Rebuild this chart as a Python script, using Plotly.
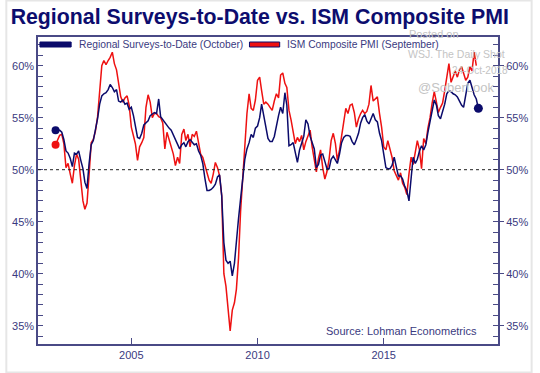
import pandas as pd
import plotly.graph_objects as go

# ---- data (monthly) ----
regional = [
    53.8, 53.7, 53.8, 53.6, 52.9, 51.8, 51.6, 51.1, 50.3, 51.6, 51.5, 51.8,  # 2002
    50.9, 50.1, 48.8, 48.2, 50.6, 52.4, 52.8, 53.7, 54.9, 56.3, 57.1, 57.3,  # 2003
    57.4, 57.7, 58.2, 57.9, 57.5, 57.7, 56.6, 56.5, 56.7, 56.3, 56.4, 55.8,  # 2004
    56.0, 55.2, 54.2, 53.1, 53.0, 53.5, 54.3, 54.5, 54.7, 55.2, 55.4, 55.5,  # 2005
    55.4, 56.8, 55.1, 54.8, 54.5, 54.2, 54.0, 53.8, 53.3, 52.9, 52.5, 52.0,  # 2006
    52.4, 52.6, 52.2, 52.7, 52.9, 52.6, 52.4, 52.5, 51.8, 51.4, 50.6, 49.2,  # 2007
    48.0, 48.0, 48.1, 48.3, 48.6, 49.3, 49.5, 47.5, 43.0, 41.3, 41.0, 41.2,  # 2008
    39.8, 41.0, 43.3, 45.3, 47.2, 49.0, 51.0, 52.0, 52.6, 53.4, 53.1, 54.0,  # 2009
    54.2, 55.0, 56.3, 55.2, 54.2, 53.0, 52.7, 52.7, 53.2, 54.3, 55.2, 56.0,  # 2010
    55.4, 57.4, 56.2, 52.3, 52.4, 52.6, 51.6, 50.7, 51.9, 52.6, 53.2, 54.8,  # 2011
    54.4, 53.2, 52.5, 52.0, 50.2, 50.5, 51.4, 51.5, 50.8, 50.1, 50.1, 51.0,  # 2012
    51.3, 50.9, 50.6, 51.5, 52.6, 53.1, 53.3, 53.3, 53.2, 52.7, 52.4, 52.9,  # 2013
    53.5, 54.5, 55.0, 55.3, 54.7, 54.4, 54.9, 55.4, 54.8, 54.6, 53.5, 52.8,  # 2014
    51.5, 50.2, 50.1, 50.1, 50.4, 51.2, 50.3, 49.4, 49.4, 49.1, 48.4, 48.0,  # 2015
    47.0, 49.6, 51.2, 50.6, 51.0, 51.8, 52.3, 51.9, 52.4, 53.6, 54.6, 55.8,  # 2016
    56.7, 56.2, 55.2, 54.9, 55.5, 56.3, 57.3, 57.6, 57.5, 57.3, 57.2, 57.0,  # 2017
    56.6, 56.2, 56.0, 57.3, 58.3, 58.6, 57.8, 57.2, 56.8, 55.9,              # 2018
]
ism = [
    52.4, 52.8, 53.3, 53.4, 52.5, 50.2, 50.6, 49.6, 48.7, 50.4, 51.5, 51.0,  # 2002
    49.0, 47.0, 46.2, 46.8, 49.5, 52.6, 52.9, 53.7, 55.1, 58.0, 60.0, 60.5,  # 2003
    60.1, 60.5, 60.8, 61.3, 60.2, 59.6, 58.3, 57.0, 56.5, 56.9, 57.1, 56.2,  # 2004
    54.1, 53.2, 52.5, 50.9, 52.2, 52.6, 53.1, 56.0, 57.2, 56.5, 55.0, 55.4,  # 2005
    55.4, 55.1, 55.0, 54.5, 52.0, 53.6, 52.9, 52.3, 51.5, 50.4, 51.2, 50.6,  # 2006
    53.4, 53.9, 52.8, 53.4, 52.2, 53.4, 53.2, 53.7, 52.5, 51.5, 51.2, 50.3,  # 2007
    49.7, 49.0, 48.7, 49.6, 50.7, 50.2, 49.4, 47.5, 40.0, 38.8, 36.5, 34.5,  # 2008
    36.5, 37.2, 38.5, 41.5, 46.0, 49.6, 53.0, 55.4, 57.3, 55.9, 55.7, 56.7,  # 2009
    58.6, 58.9, 57.6, 56.3, 56.5, 56.3, 56.0, 55.7, 56.6, 57.3, 56.9, 59.1,  # 2010
    59.3, 58.3, 57.9, 55.7, 54.8, 53.8, 52.5, 53.1, 52.7, 53.3, 51.9, 52.7,  # 2011
    53.3, 53.8, 52.2, 50.9, 49.8, 51.1, 51.9, 50.2, 49.1, 49.8, 51.0, 52.8,  # 2012
    53.5, 52.5, 50.9, 51.9, 53.1, 54.4, 55.9, 55.4, 56.2, 56.3, 55.5, 54.1,  # 2013
    54.9, 55.4, 55.7, 55.4, 55.6, 56.3, 58.1, 56.6, 56.8, 57.0, 55.4, 54.1,  # 2014
    52.2, 51.9, 52.8, 51.9, 51.2, 49.9, 49.5, 49.0, 49.7, 48.7, 48.3, 47.6,  # 2015
    49.6, 51.2, 50.5, 51.7, 52.8, 51.9, 50.1, 53.0, 52.5, 54.0, 55.0, 56.4,  # 2016
    57.5, 56.5, 55.5, 56.0, 56.4, 57.6, 59.0, 60.2, 58.4, 58.9, 59.5, 58.9,  # 2017
    59.6, 59.9, 59.2, 58.6, 58.9, 59.9, 59.5, 61.3, 60.0,                    # 2018
]
start_month = "2002-01-01"
y_tick_vals = [35, 40, 45, 50, 55, 60]
y_tick_text = ["35%", "40%", "45%", "50%", "55%", "60%"]
x_tick_vals = ["2005-01-01", "2010-01-01", "2015-01-01"]
x_tick_text = ["2005", "2010", "2015"]

reg_dates = pd.date_range(start_month, periods=len(regional), freq="MS")
ism_dates = pd.date_range(start_month, periods=len(ism), freq="MS")

NAVY = "#0b0b6b"
RED = "#ee1111"
AX = "#4a4a86"
TXT = "#3a3a80"
FONT = "Liberation Sans, Arial, sans-serif"

fig = go.Figure()
fig.add_trace(go.Scatter(x=ism_dates, y=ism, mode="lines",
                         line=dict(color=RED, width=1.5), showlegend=False,
                         hoverinfo="skip"))
fig.add_trace(go.Scatter(x=reg_dates, y=regional, mode="lines",
                         line=dict(color=NAVY, width=1.5), showlegend=False,
                         hoverinfo="skip"))
# end-point dots
fig.add_trace(go.Scatter(x=[ism_dates[0]], y=[ism[0]], mode="markers",
                         marker=dict(color=RED, size=8), showlegend=False))
fig.add_trace(go.Scatter(x=[reg_dates[0]], y=[regional[0]], mode="markers",
                         marker=dict(color=NAVY, size=8), showlegend=False))
fig.add_trace(go.Scatter(x=[reg_dates[-1]], y=[regional[-1]], mode="markers",
                         marker=dict(color=NAVY, size=9), showlegend=False,
                         yaxis="y2"))

# 50% reference line
fig.add_hline(y=50, line=dict(color="#222222", width=1, dash="dot"))

yrange = [33.24, 62.76]
fig.update_layout(
    width=540, height=373,
    margin=dict(l=33, r=35, t=37, b=29),
    paper_bgcolor="white", plot_bgcolor="white",
    font=dict(family=FONT, color=TXT, size=11),
    title=dict(text="<b>Regional Surveys-to-Date vs. ISM Composite PMI</b>",
               x=0.481, xanchor="center", y=0.955, yanchor="middle",
               font=dict(family=FONT, size=21.3, color="#0d0d6e")),
    xaxis=dict(type="date", range=["2001-04-22", "2019-07-12"],
               tickvals=x_tick_vals, ticktext=x_tick_text,
               ticks="inside", ticklen=6, tickcolor=AX, tickwidth=1,
               showline=True, linecolor=AX, linewidth=1.5, mirror=True,
               showgrid=False, zeroline=False,
               tickfont=dict(size=11, color=TXT)),
    yaxis=dict(range=yrange, tickvals=y_tick_vals, ticktext=y_tick_text,
               ticks="inside", ticklen=5, tickcolor=AX,
               minor=dict(dtick=1, ticks="inside", ticklen=5, tickcolor=AX),
               showline=True, linecolor=AX, linewidth=1.5, mirror="ticks",
               showgrid=False, zeroline=False,
               tickfont=dict(size=11, color=TXT)),
    yaxis2=dict(range=yrange, overlaying="y", side="right",
                tickvals=y_tick_vals, ticktext=y_tick_text,
                ticks="outside", ticklen=5, tickcolor=AX,
                showline=False, showgrid=False, zeroline=False,
                tickfont=dict(size=11, color=TXT)),
    showlegend=False,
)

# manual legend (thick swatches)
pw = 472.0
ph = 307.0
def px_x(p):
    return (p - 33) / pw
def px_y(p):
    return (344 - p) / ph

fig.add_shape(type="rect", xref="paper", yref="paper",
              x0=px_x(35), x1=px_x(67), y0=px_y(47), y1=px_y(42),
              fillcolor=NAVY, line=dict(color=NAVY, width=1))
fig.add_shape(type="rect", xref="paper", yref="paper",
              x0=px_x(250), x1=px_x(281), y0=px_y(47), y1=px_y(42),
              fillcolor=RED, line=dict(color=NAVY, width=1))
fig.add_annotation(text="Regional Surveys-to-Date (October)", xref="paper", yref="paper",
                   x=px_x(73), y=px_y(44.5), xanchor="left", yanchor="middle",
                   showarrow=False, font=dict(size=10.3, color=TXT))
fig.add_annotation(text="ISM Composite PMI (September)", xref="paper", yref="paper",
                   x=px_x(286), y=px_y(44.5), xanchor="left", yanchor="middle",
                   showarrow=False, font=dict(size=10.3, color=TXT))

# watermark
WM = "#c4c4c4"
fig.add_annotation(text="Posted on", xref="paper", yref="paper",
                   x=px_x(412), y=px_y(34), xanchor="left", yanchor="middle",
                   showarrow=False, font=dict(size=11, color=WM))
fig.add_annotation(text="WSJ. The Daily Shot", xref="paper", yref="paper",
                   x=px_x(411), y=px_y(54), xanchor="left", yanchor="middle",
                   showarrow=False, font=dict(size=10.5, color=WM))
fig.add_annotation(text="24-Oct-2018", xref="paper", yref="paper",
                   x=px_x(456), y=px_y(70), xanchor="left", yanchor="middle",
                   showarrow=False, font=dict(size=10, color=WM))
fig.add_annotation(text="@SoberLook", xref="paper", yref="paper",
                   x=px_x(421), y=px_y(88), xanchor="left", yanchor="middle",
                   showarrow=False, font=dict(size=13, color=WM))

# source
fig.add_annotation(text="Source: Lohman Econometrics", xref="paper", yref="paper",
                   x=px_x(485), y=px_y(330.5), xanchor="right", yanchor="middle",
                   showarrow=False, font=dict(size=11, color=TXT))

# faint outer frame
fig.add_shape(type="rect", xref="paper", yref="paper",
              x0=px_x(0.5), x1=px_x(539.5), y0=px_y(372.5), y1=px_y(0.5),
              line=dict(color="#e6e6e6", width=2), layer="below")

fig.write_html("out.html", config={"displayModeBar": False},
               post_script="document.body.style.margin='0';document.body.style.padding='0';")
